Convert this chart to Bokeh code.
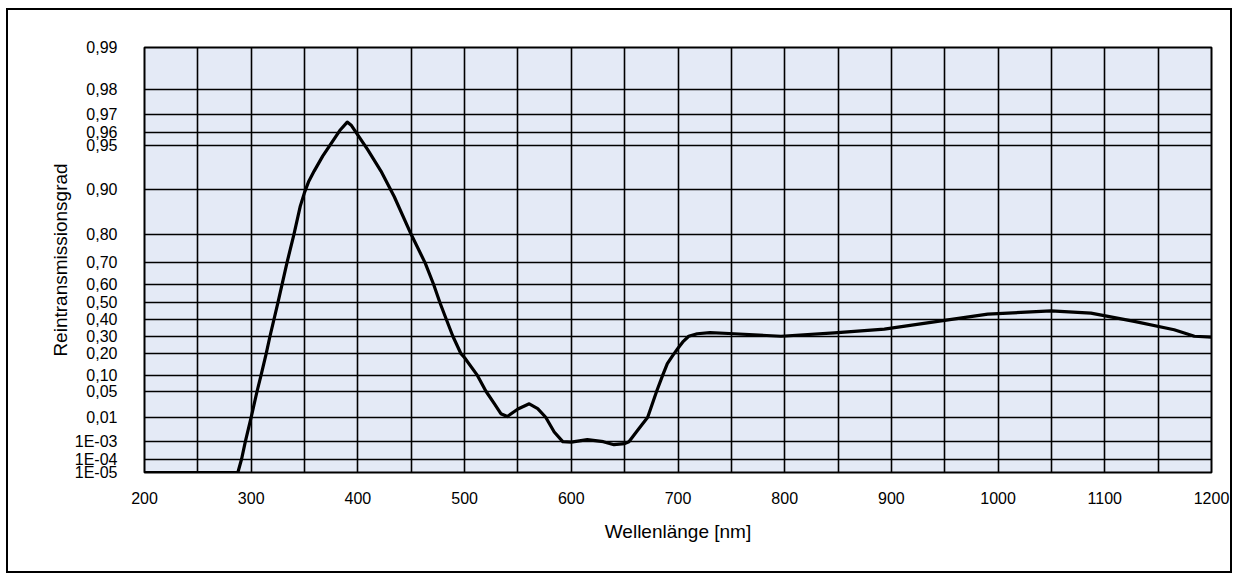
import numpy as np
from bokeh.plotting import figure
from bokeh.models import FixedTicker, Range1d, CustomJSTickFormatter
from bokeh.embed import file_html
from bokeh.resources import INLINE

# --- data (wavelength nm, pure transmittance) ---
wavelength = [200, 250, 287.5, 291, 294.5, 300, 305.5, 309.2, 314, 317.6, 325, 333.5, 340,
              346, 350, 354, 359, 367, 375, 383, 390, 394, 400, 409, 421.6, 434, 450, 463,
              471, 477, 483, 489, 496.6, 500, 512, 520, 528, 534, 540, 550, 560.6,
              568.5, 576, 584, 592, 600, 615, 630, 640, 650, 654, 662, 671.6, 680,
              685.6, 690, 695, 700, 705, 710, 718, 730, 752.8, 796.5, 846.5, 893.4, 943.4,
              990.3, 1049.6, 1087, 1127.6, 1165, 1184, 1200]
transmission = [1e-5, 1e-5, 1e-5, 1e-4, 1e-3, 0.01, 0.05, 0.10, 0.20, 0.30, 0.50, 0.70, 0.80,
                0.87, 0.895, 0.912, 0.925, 0.941, 0.952, 0.961, 0.966, 0.964, 0.958, 0.947, 0.925,
                0.888, 0.80, 0.70, 0.60, 0.50, 0.40, 0.30, 0.20, 0.179, 0.10, 0.05, 0.025, 0.013,
                0.0105, 0.018, 0.025, 0.0185, 0.01, 0.0028, 1.0e-3, 9.5e-4, 1.25e-3, 1.0e-3,
                7.0e-4, 8.0e-4, 1.0e-3, 3.2e-3, 0.01, 0.05, 0.10, 0.15, 0.19, 0.23, 0.27, 0.30,
                0.315, 0.322, 0.315, 0.30, 0.32, 0.343, 0.39, 0.434, 0.454, 0.44, 0.39, 0.339,
                0.30, 0.295]

y_tick_values = [0.99, 0.98, 0.97, 0.96, 0.95, 0.90, 0.80, 0.70, 0.60, 0.50, 0.40, 0.30,
                 0.20, 0.10, 0.05, 0.01, 1e-3, 1e-4, 1e-5]
y_tick_labels = ["0,99", "0,98", "0,97", "0,96", "0,95", "0,90", "0,80", "0,70", "0,60", "0,50",
                 "0,40", "0,30", "0,20", "0,10", "0,05", "0,01", "1E-03", "1E-04", "1E-05"]
x_tick_values = list(range(200, 1201, 100))
x_grid_values = list(range(200, 1201, 50))


def dlog(t):
    # double-logarithmic "Reintransmissionsgrad" scale
    return np.log10(np.log10(1.0 / np.asarray(t, dtype=float)))


y_data = dlog(transmission)
y_ticks = [float(v) for v in dlog(y_tick_values)]

FONT = "Liberation Sans"

p = figure(width=1226, height=565, output_backend="svg", toolbar_location=None,
           x_range=Range1d(200, 1200),
           y_range=Range1d(float(dlog(1e-5)), float(dlog(0.99))),
           min_border_left=136, min_border_right=23, min_border_top=37, min_border_bottom=103)

p.styles = {"border": "2px solid black", "margin-left": "6px", "margin-top": "8px"}
p.background_fill_color = "#e4eaf6"
p.border_fill_color = "white"
p.outline_line_color = "black"
p.outline_line_width = 2

p.line(wavelength, y_data, line_color="black", line_width=3.2, line_join="round")

# x axis
p.xaxis.ticker = FixedTicker(ticks=x_tick_values)
p.xgrid.ticker = FixedTicker(ticks=x_grid_values)
p.xaxis.axis_label = "Wellenlänge [nm]"

# y axis
p.yaxis.ticker = FixedTicker(ticks=y_ticks)
p.ygrid.ticker = FixedTicker(ticks=y_ticks)
p.yaxis.formatter = CustomJSTickFormatter(args=dict(vals=y_ticks, labels=y_tick_labels), code="""
    let best = 0, bd = 1e9;
    for (let i = 0; i < vals.length; i++) {
        const d = Math.abs(vals[i] - tick);
        if (d < bd) { bd = d; best = i; }
    }
    return labels[best];
""")
p.yaxis.axis_label = "Reintransmissionsgrad"

for ax in (p.xaxis[0], p.yaxis[0]):
    ax.axis_line_color = None
    ax.major_tick_line_color = None
    ax.minor_tick_line_color = None
    ax.major_tick_out = 0
    ax.major_tick_in = 0
    ax.minor_tick_out = 0
    ax.minor_tick_in = 0
    ax.major_label_text_font = FONT
    ax.major_label_text_font_size = "16px"
    ax.major_label_text_color = "black"
    ax.axis_label_text_font = FONT
    ax.axis_label_text_font_size = "19px"
    ax.axis_label_text_font_style = "normal"
    ax.axis_label_text_color = "black"

p.xaxis.major_label_standoff = 19
p.xaxis.axis_label_standoff = 14
p.yaxis.major_label_standoff = 27
p.yaxis.axis_label_standoff = 1

for g in (p.xgrid[0], p.ygrid[0]):
    g.grid_line_color = "black"
    g.grid_line_width = 1.6
    g.grid_line_alpha = 1.0

open("out.html", "w").write(file_html(p, INLINE))
